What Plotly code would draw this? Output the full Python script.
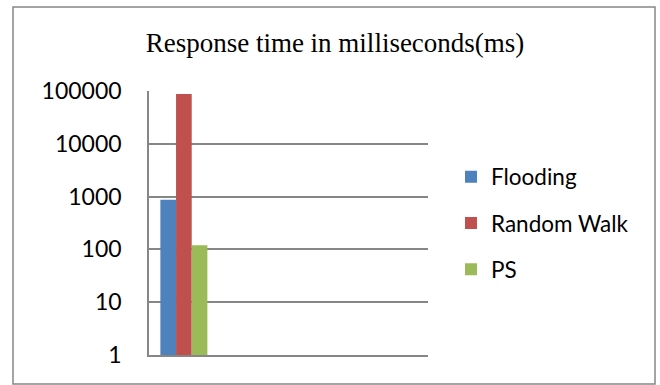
import plotly.graph_objects as go

categories = ["Response time"]
series_names = ["Flooding", "Random Walk", "PS"]
flooding = [870]
random_walk = [88000]
ps = [120]
series_values = [flooding, random_walk, ps]
series_colors = ["#4F81BD", "#C0504D", "#9BBB59"]
tick_vals = [1, 10, 100, 1000, 10000, 100000]
tick_text = ["1", "10", "100", "1000", "10000", "100000"]

W, H = 660, 385
L, R, T, B = 149, 428, 91, 355

fig = go.Figure()
for name, vals, col in zip(series_names, series_values, series_colors):
    fig.add_trace(go.Bar(x=categories, y=vals, name=name, marker_color=col,
                         marker_line_width=0, legendgroup=name))

pw, ph = R - L, B - T
fig.add_shape(type="rect", xref="paper", yref="paper",
              x0=(13 - L) / pw, x1=(655 - L) / pw,
              y0=(B - 384) / ph, y1=(B - 7) / ph,
              line=dict(color="#868686", width=1.5), fillcolor="rgba(0,0,0,0)",
              layer="below")

fig.update_layout(
    width=W, height=H,
    margin=dict(l=L, r=W - R, t=T, b=H - B, pad=0),
    paper_bgcolor="white", plot_bgcolor="white",
    barmode="group", bargap=0.326, bargroupgap=0,
    title=dict(text="Response time in milliseconds(ms)",
               font=dict(family="Liberation Serif", size=27, color="black"),
               x=335 / W, xanchor="center", xref="container",
               y=1 - 43 / H, yanchor="middle", yref="container"),
    font=dict(family="Lato", size=22, color="black"),
    showlegend=True,
    legend=dict(x=(451 - L) / pw, xanchor="left", y=0.5, yanchor="middle",
                font=dict(family="Lato", size=22.5, color="black"),
                tracegroupgap=14, bgcolor="rgba(0,0,0,0)"),
    xaxis=dict(type="category", range=[-0.5, 3.5], showticklabels=False,
               showgrid=False, showline=True, linecolor="#868686", linewidth=1.5,
               ticks="", zeroline=False),
    yaxis=dict(type="log", range=[0, 5], tickvals=tick_vals, ticktext=tick_text,
               showgrid=True, gridcolor="#868686", gridwidth=1.5,
               showline=True, linecolor="#868686", linewidth=1.5,
               ticks="", ticklabelstandoff=21, zeroline=False,
               tickfont=dict(family="Lato", size=23, color="black")),
)

fig.write_html("out.html")
